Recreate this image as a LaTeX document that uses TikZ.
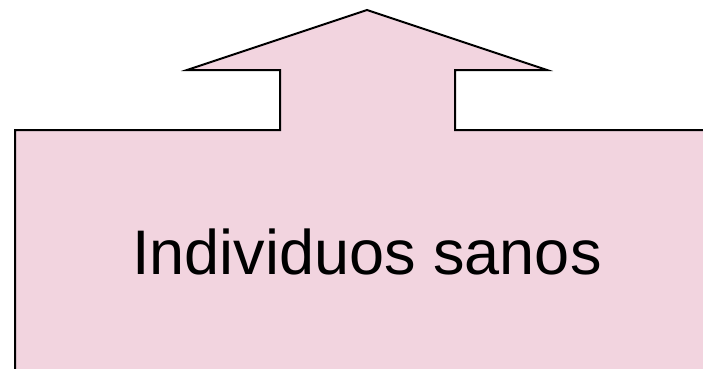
\documentclass[tikz,border=0pt]{standalone}
\usepackage{fontspec}
\setmainfont{Liberation Sans}
\definecolor{pinkfill}{HTML}{F2D4DF}
\tikzset{
  callout/.style={draw=black, fill=pinkfill, line width=2pt, line join=miter},
  labeltext/.style={font=\fontsize{63}{70}\selectfont, text=black, inner sep=0pt, anchor=base}
}
\begin{document}
\begin{tikzpicture}[x=1pt,y=-1pt]
\useasboundingbox (0,0) rectangle (703,368);
\begin{scope}
\clip (0,0) rectangle (703,368);
\draw[callout] (15,380) -- (15,130) -- (280,130) -- (280,70) -- (187,70) -- (367,10) -- (547,70) -- (455,70) -- (455,130) -- (715,130) -- (715,380) -- cycle;
\end{scope}
\node[labeltext] (lbl) at (367,274) {Individuos sanos};
\end{tikzpicture}
\end{document}
